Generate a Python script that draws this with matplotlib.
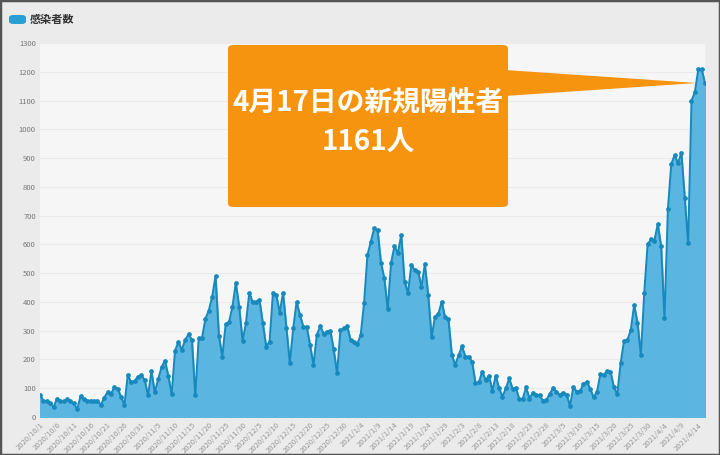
import matplotlib.pyplot as plt
from matplotlib.patches import FancyBboxPatch, Polygon, Rectangle

plt.rcParams['font.family'] = ['Noto Sans CJK JP', 'DejaVu Sans']

# 大阪府 新規陽性者数 2020/10/1 - 2021/4/17 (読み取り値)
cases = [
    78, 56, 56, 50, 34, 63, 56, 54, 61, 54,
    48, 27, 72, 61, 56, 57, 55, 56, 42, 67,
    86, 80, 103, 99, 70, 42, 146, 120, 125, 140,
    146, 128, 75, 159, 86, 131, 173, 196, 143, 79,
    231, 261, 233, 268, 288, 268, 75, 273, 275, 342,
    370, 418, 490, 282, 210, 323, 330, 383, 467, 383,
    264, 326, 432, 398, 400, 408, 326, 245, 262, 430,
    424, 363, 432, 308, 187, 308, 400, 355, 314, 314,
    250, 181, 285, 316, 290, 297, 300, 235, 152, 302,
    308, 316, 268, 262, 254, 285, 397, 563, 609, 656,
    650, 536, 482, 374, 536, 594, 569, 633, 470, 432,
    528, 511, 505, 453, 531, 424, 277, 349, 358, 401,
    346, 339, 215, 181, 215, 246, 210, 210, 192, 118,
    120, 158, 129, 143, 92, 143, 100, 71, 100, 134,
    98, 100, 61, 64, 103, 64, 85, 78, 75, 57,
    59, 80, 102, 88, 78, 85, 78, 38, 105, 88,
    90, 115, 123, 98, 68, 88, 149, 146, 161, 158,
    103, 79, 187, 265, 268, 302, 389, 328, 215, 432,
    601, 617, 613, 671, 594, 343, 722, 879, 911, 882,
    919, 760, 604, 1099, 1130, 1208, 1209, 1161,
]

tick_labels = [
    '2020/10/1', '2020/10/6', '2020/10/11', '2020/10/16', '2020/10/21',
    '2020/10/26', '2020/10/31', '2020/11/5', '2020/11/10', '2020/11/15',
    '2020/11/20', '2020/11/25', '2020/11/30', '2020/12/5', '2020/12/10',
    '2020/12/15', '2020/12/20', '2020/12/25', '2020/12/30', '2021/1/4',
    '2021/1/9', '2021/1/14', '2021/1/19', '2021/1/24', '2021/1/29',
    '2021/2/3', '2021/2/8', '2021/2/13', '2021/2/18', '2021/2/23',
    '2021/2/28', '2021/3/5', '2021/3/10', '2021/3/15', '2021/3/20',
    '2021/3/25', '2021/3/30', '2021/4/4', '2021/4/9', '2021/4/14',
]

series_name = '感染者数'
note_lines = ['4月17日の新規陽性者', '1161人']

x = list(range(len(cases)))

fig = plt.figure(figsize=(7.2, 4.55), dpi=100, facecolor='#ebebeb')
ax = fig.add_axes([40 / 720, 38 / 455, 665 / 720, 374 / 455])
ax.set_facecolor('#f6f6f6')

ax.fill_between(x, cases, 0, color='#5ab6e0', zorder=2)
ax.plot(x, cases, color='#1889bd', lw=1.4, marker='o', ms=2.4, zorder=3)

ax.set_xlim(0, len(cases) - 1)
ax.set_ylim(0, 1300)
ax.set_yticks(range(0, 1301, 100))
ax.set_xticks(range(0, len(cases), 5))
ax.set_xticklabels(tick_labels, rotation=45, ha='right', va='top',
                   rotation_mode='anchor', fontsize=5.5, color='#999999')
ax.tick_params(axis='y', labelsize=5.5, labelcolor='#777777', length=0, pad=3)
ax.tick_params(axis='x', length=0, pad=3)
ax.grid(axis='y', color='#ebebeb', lw=0.8, zorder=0)
for s in ax.spines.values():
    s.set_visible(False)

# legend
fig.patches.append(FancyBboxPatch((9 / 720, 1 - 24 / 455), 17 / 720, 9 / 455,
                                  boxstyle='round,pad=0,rounding_size=0.006',
                                  transform=fig.transFigure, fc='#2a9fd6', ec='none'))
fig.text(30 / 720, 1 - 19 / 455, series_name, fontsize=8, fontweight='bold',
         color='#333333', va='center', ha='left')

# callout
fig.patches.append(Polygon([(505 / 720, 1 - 70 / 455), (697 / 720, 1 - 83 / 455),
                            (505 / 720, 1 - 96 / 455)],
                           closed=True, transform=fig.transFigure,
                           fc='#f7940f', ec='none', zorder=5))
fig.patches.append(FancyBboxPatch((228 / 720, 1 - 207 / 455), 280 / 720, 162 / 455,
                                  boxstyle='round,pad=0,rounding_size=0.008',
                                  transform=fig.transFigure, fc='#f7940f', ec='none',
                                  zorder=6))
fig.text(368 / 720, 1 - 102 / 455, note_lines[0], fontsize=20, fontweight='bold',
         color='white', ha='center', va='center', zorder=7)
fig.text(368 / 720, 1 - 143 / 455, note_lines[1], fontsize=20, fontweight='bold',
         color='white', ha='center', va='center', zorder=7)

fig.patches.append(Rectangle((0, 0), 1, 1, transform=fig.transFigure,
                             fill=False, ec='#555555', lw=2.5, zorder=10))

plt.savefig('out.png', dpi=100, facecolor=fig.get_facecolor())
